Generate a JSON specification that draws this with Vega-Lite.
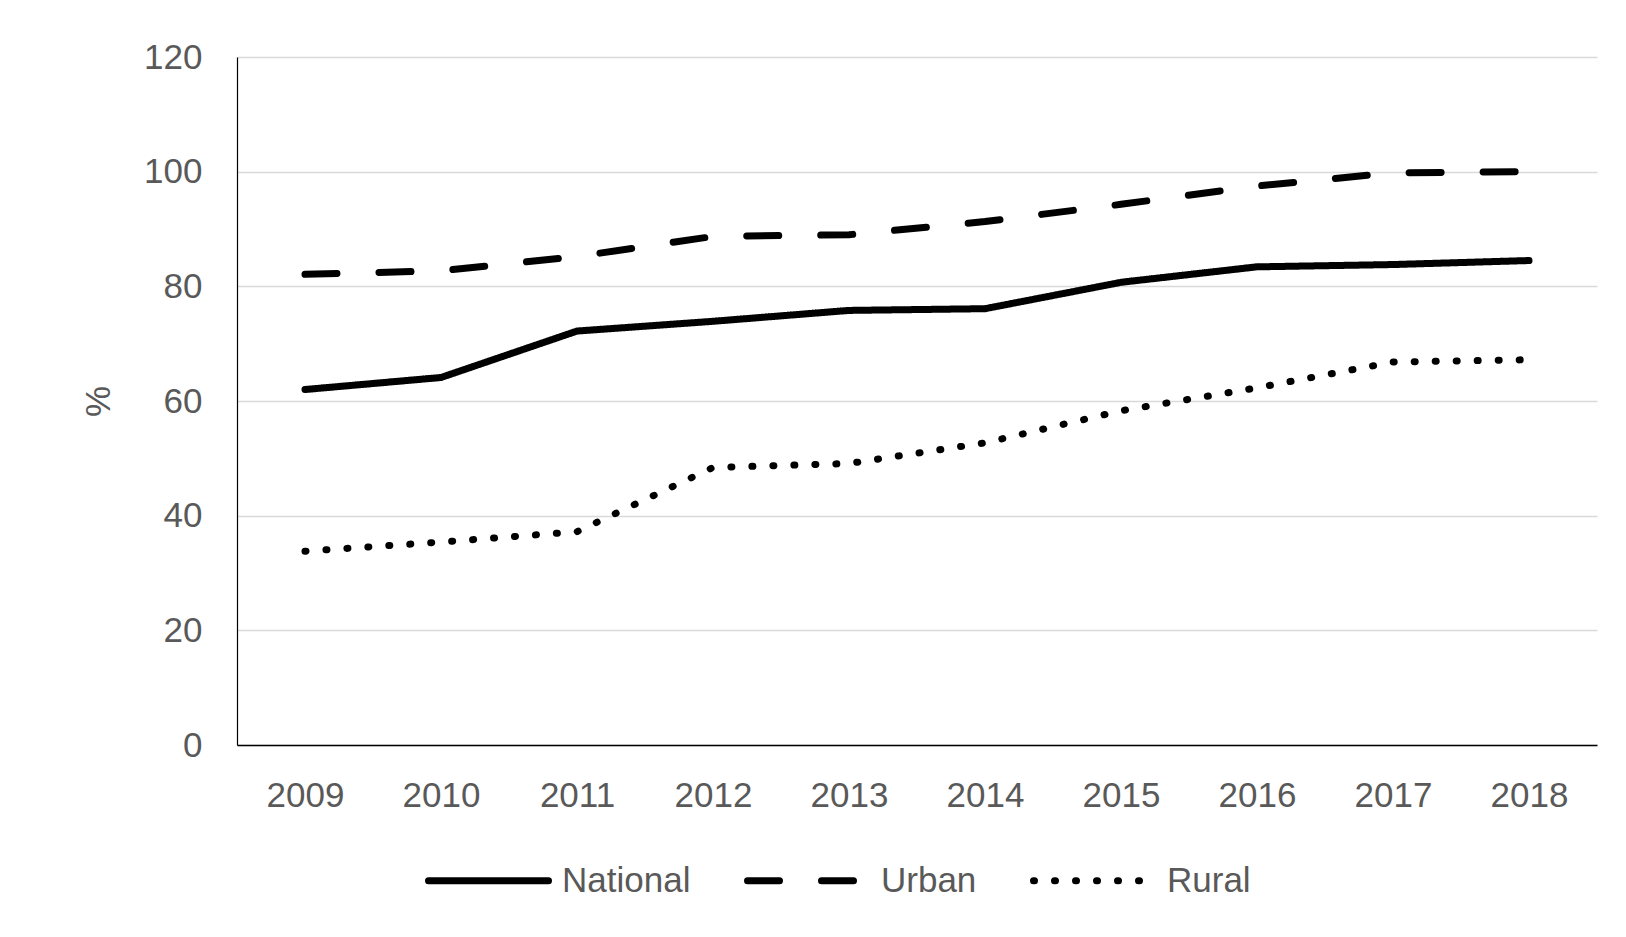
{
  "$schema": "https://vega.github.io/schema/vega-lite/v6.json",
  "autosize": {"type": "none"},
  "padding": {"left": 237, "top": 57, "right": 29, "bottom": 192},
  "width": 1360,
  "height": 688,
  "background": "white",
  "config": {
    "view": {"stroke": null},
    "font": "Liberation Sans"
  },
  "data": {
    "values": [
      {"year": "2009", "series": "National", "value": 62.0},
      {"year": "2010", "series": "National", "value": 64.1},
      {"year": "2011", "series": "National", "value": 72.2},
      {"year": "2012", "series": "National", "value": 73.9},
      {"year": "2013", "series": "National", "value": 75.8},
      {"year": "2014", "series": "National", "value": 76.1},
      {"year": "2015", "series": "National", "value": 80.7},
      {"year": "2016", "series": "National", "value": 83.4},
      {"year": "2017", "series": "National", "value": 83.8},
      {"year": "2018", "series": "National", "value": 84.5},
      {"year": "2009", "series": "Urban", "value": 82.1},
      {"year": "2010", "series": "Urban", "value": 82.7},
      {"year": "2011", "series": "Urban", "value": 85.2},
      {"year": "2012", "series": "Urban", "value": 88.7},
      {"year": "2013", "series": "Urban", "value": 89.0},
      {"year": "2014", "series": "Urban", "value": 91.3},
      {"year": "2015", "series": "Urban", "value": 94.3},
      {"year": "2016", "series": "Urban", "value": 97.5},
      {"year": "2017", "series": "Urban", "value": 99.8},
      {"year": "2018", "series": "Urban", "value": 100.0},
      {"year": "2009", "series": "Rural", "value": 33.8},
      {"year": "2010", "series": "Rural", "value": 35.4},
      {"year": "2011", "series": "Rural", "value": 37.2},
      {"year": "2012", "series": "Rural", "value": 48.4},
      {"year": "2013", "series": "Rural", "value": 49.1},
      {"year": "2014", "series": "Rural", "value": 52.7},
      {"year": "2015", "series": "Rural", "value": 58.3},
      {"year": "2016", "series": "Rural", "value": 62.3},
      {"year": "2017", "series": "Rural", "value": 66.8},
      {"year": "2018", "series": "Rural", "value": 67.2}
    ]
  },
  "mark": {"type": "line", "color": "#000000", "strokeWidth": 7, "strokeCap": "round", "strokeJoin": "round"},
  "encoding": {
    "x": {
      "field": "year",
      "type": "ordinal",
      "scale": {"type": "point", "padding": 0.5},
      "axis": {
        "title": null,
        "labelAngle": 0,
        "labelFontSize": 35,
        "labelColor": "#595959",
        "labelPadding": 33,
        "ticks": false,
        "domainColor": "#000000",
        "domainWidth": 1.5,
        "grid": false
      }
    },
    "y": {
      "field": "value",
      "type": "quantitative",
      "scale": {"domain": [0, 120], "nice": false},
      "axis": {
        "title": "%",
        "titleFontSize": 35,
        "titleFontWeight": "normal",
        "titleColor": "#595959",
        "titleAngle": -90,
        "titleX": -139,
        "titleY": 344,
        "titleAlign": "center",
        "titleBaseline": "middle",
        "values": [0, 20, 40, 60, 80, 100, 120],
        "labelFontSize": 35,
        "labelColor": "#595959",
        "labelPadding": 35,
        "ticks": false,
        "domainColor": "#000000",
        "domainWidth": 1.2,
        "gridColor": "#d9d9d9",
        "gridWidth": 1.5
      }
    },
    "strokeDash": {
      "field": "series",
      "type": "nominal",
      "scale": {
        "domain": ["National", "Urban", "Rural"],
        "range": [[1, 0], [32, 42], [1, 20]]
      },
      "legend": {
        "title": null,
        "orient": "none",
        "direction": "horizontal",
        "legendX": 188,
        "legendY": 760,
        "symbolType": "stroke",
        "symbolSize": 14400,
        "symbolStrokeWidth": 7,
        "symbolStrokeColor": "#000000",
        "labelFontSize": 35,
        "labelColor": "#595959",
        "labelOffset": 10,
        "columnPadding": 42,
        "symbolLimit": 0,
        "encode": {"symbols": {"update": {"strokeCap": {"value": "round"}}}}
      }
    }
  }
}
